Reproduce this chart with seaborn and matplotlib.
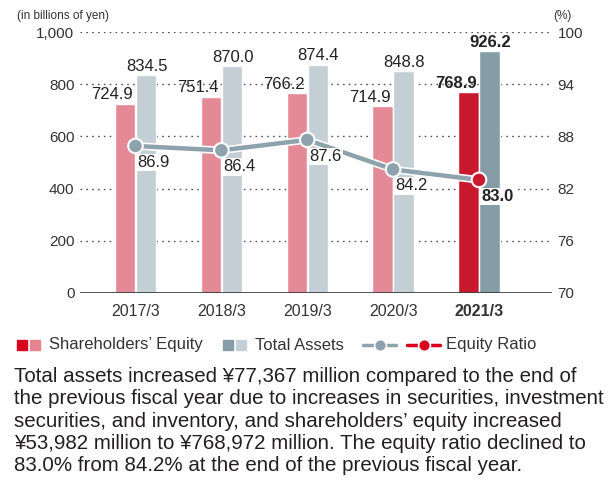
import numpy as np
import pandas as pd
import seaborn as sns
import matplotlib.pyplot as plt
import matplotlib.patheffects as pe
from matplotlib.patches import Rectangle
from matplotlib.lines import Line2D

# data
years = ['2017/3', '2018/3', '2019/3', '2020/3', '2021/3']
equity = [724.9, 751.4, 766.2, 714.9, 768.9]
assets = [834.5, 870.0, 874.4, 848.8, 926.2]
ratio = [86.9, 86.4, 87.6, 84.2, 83.0]

left_ticks = [0, 200, 400, 600, 800, 1000]
left_labels = ['0', '200', '400', '600', '800', '1,000']
right_ticks = [70, 76, 82, 88, 94, 100]

note = ("Total assets increased \u00a577,367 million compared to the end of\n"
        "the previous fiscal year due to increases in securities, investment\n"
        "securities, and inventory, and shareholders\u2019 equity increased\n"
        "\u00a553,982 million to \u00a5768,972 million. The equity ratio declined to\n"
        "83.0% from 84.2% at the end of the previous fiscal year.")

# colours
pink, pale = '#e38a96', '#c3ced5'
red, slate = '#c8192e', '#869ca7'
line_grey = '#8da2ac'
txt = '#333333'

sns.set_style('white')
plt.rcParams['font.family'] = ['Liberation Sans', 'DejaVu Sans']

df = pd.DataFrame({
    'year': years * 2,
    'value': equity + assets,
    'series': ['Shareholders\u2019 Equity'] * 5 + ['Total Assets'] * 5,
})

W, H = 608, 487
fig = plt.figure(figsize=(6.08, 4.87), dpi=100)
ax = fig.add_axes([80 / W, 1 - 293 / H, (552 - 80) / W, (293 - 32) / H])

sns.barplot(data=df, x='year', y='value', hue='series', palette=[pink, pale],
            width=0.49, gap=0.03, ax=ax, legend=False, saturation=1)
ax.containers[0][4].set_facecolor(red)
ax.containers[1][4].set_facecolor(slate)

ax.set_xlim(-0.646, 4.85)
ax.set_ylim(0, 1000)
ax.set_yticks(left_ticks, left_labels)
ax.set_xlabel('')
ax.set_ylabel('')
for y in left_ticks[1:]:
    ax.axhline(y, color='#555555', lw=1, ls=(0, (1.2, 3)), zorder=0)
ax.axhline(0, color='#333333', lw=1.2, zorder=3)
for s in ax.spines.values():
    s.set_visible(False)
ax.tick_params(axis='both', length=0, labelsize=11, colors=txt, pad=4)
ax.tick_params(axis='x', pad=8, labelsize=11.5)
ax.get_xticklabels()[4].set_fontweight('bold')

# bar value labels
for i in range(5):
    w = 'bold' if i == 4 else 'normal'
    ax.annotate(f'{equity[i]:.1f}', (i - 0.27, equity[i]), xytext=(0, 1),
                textcoords='offset points', ha='center', va='bottom',
                fontsize=12, color='#222222', fontweight=w)
    ax.annotate(f'{assets[i]:.1f}', (i + 0.13, assets[i]), xytext=(0, 1),
                textcoords='offset points', ha='center', va='bottom',
                fontsize=12, color='#222222', fontweight=w)

fig.text(17 / W, 1 - 22 / H, '(in billions of yen)', ha='left', va='bottom',
         fontsize=8.5, color=txt)

# equity ratio on secondary axis
ax2 = ax.twinx()
ax2.set_ylim(70, 100)
ax2.set_yticks(right_ticks)
for s in ax2.spines.values():
    s.set_visible(False)
ax2.tick_params(axis='y', length=0, labelsize=11, colors=txt, pad=4)
fig.text(553 / W, 1 - 22 / H, '(%)', ha='left', va='bottom', fontsize=8.5, color=txt)

xs = np.arange(len(years))
sns.lineplot(x=xs, y=ratio, ax=ax2, color=line_grey, lw=3.2, zorder=4,
             path_effects=[pe.Stroke(linewidth=5.5, foreground='white'), pe.Normal()])
mcols = [line_grey] * 4 + [red]
ax2.scatter(xs, ratio, s=110, c=mcols, edgecolors='white', linewidths=1.5, zorder=5)
for i in range(5):
    w = 'bold' if i == 4 else 'normal'
    ax2.annotate(f'{ratio[i]:.1f}', (xs[i], ratio[i]), xytext=(1.5, -6.5),
                 textcoords='offset points', ha='left', va='top', fontsize=12,
                 color='#222222', fontweight=w, zorder=6,
                 bbox=dict(boxstyle='square,pad=0.08', fc='white', ec='none'))

# legend, laid out by hand in figure pixels
ly = 345
def square(x, c):
    fig.add_artist(Rectangle((x / W, 1 - (ly + 5) / H), 10 / W, 10 / H,
                             transform=fig.transFigure, color=c))

def line_marker(x0, x1, c):
    fig.add_artist(Line2D([x0 / W, x1 / W], [1 - ly / H] * 2, transform=fig.transFigure,
                          color=c, lw=2.5))
    fig.add_artist(Line2D([(x0 + x1) / 2 / W], [1 - ly / H], transform=fig.transFigure,
                          marker='o', ms=8.5, color=c, mec='white', mew=1.2))

square(17, '#d7001d')
square(30, '#e8848f')
fig.text(49 / W, 1 - ly / H, 'Shareholders\u2019 Equity', ha='left', va='center',
         fontsize=12, color=txt)
square(223, '#869ca7')
square(236, '#c4cfd6')
fig.text(255 / W, 1 - ly / H, 'Total Assets', ha='left', va='center',
         fontsize=12, color=txt)
line_marker(363, 396, line_grey)
line_marker(407, 440, '#d7001d')
fig.text(446 / W, 1 - ly / H, 'Equity Ratio', ha='left', va='center',
         fontsize=12, color=txt)

fig.text(14 / W, 1 - 367 / H, note, ha='left', va='top', fontsize=14.8,
         color='#231f20', linespacing=1.22)

fig.savefig('out.png', dpi=100)
